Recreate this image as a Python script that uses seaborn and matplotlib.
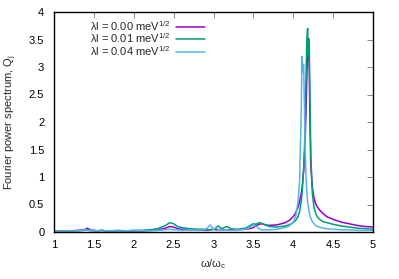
import numpy as np
import pandas as pd
import matplotlib
matplotlib.use("Agg")
import matplotlib.pyplot as plt
import seaborn as sns

# Frecuencias (omega / omega_c)
omega = [1.0, 1.1, 1.2, 1.3, 1.38, 1.42, 1.46, 1.5, 1.55, 1.6, 1.65, 1.7, 1.8, 1.9,
         2.0, 2.1, 2.2, 2.3, 2.4, 2.45, 2.5, 2.55, 2.6, 2.7, 2.8, 2.9, 2.96, 3.0,
         3.03, 3.06, 3.1, 3.17, 3.22, 3.3, 3.4, 3.45, 3.5, 3.53, 3.57, 3.6, 3.65,
         3.7, 3.8, 3.9, 3.95, 4.0, 4.03, 4.06, 4.08, 4.1, 4.11, 4.12, 4.13, 4.14,
         4.15, 4.16, 4.17, 4.18, 4.19, 4.2, 4.21, 4.22, 4.24, 4.26, 4.28, 4.3,
         4.33, 4.37, 4.42, 4.5, 4.6, 4.7, 4.8, 4.9, 5.0]

# Espectro de potencia para lambda l = 0.00
q_000 = [0.02, 0.02, 0.02, 0.03, 0.04, 0.07, 0.03, 0.03, 0.02, 0.03, 0.02, 0.02, 0.02, 0.02,
         0.02, 0.02, 0.03, 0.04, 0.07, 0.10, 0.09, 0.06, 0.05, 0.04, 0.04, 0.03, 0.04, 0.05,
         0.04, 0.04, 0.04, 0.04, 0.04, 0.04, 0.05, 0.06, 0.08, 0.11, 0.14, 0.15, 0.13,
         0.12, 0.13, 0.17, 0.21, 0.28, 0.35, 0.45, 0.55, 0.70, 0.80, 0.95, 1.10, 1.35,
         1.70, 2.20, 2.80, 3.30, 3.52, 3.00, 2.00, 1.20, 0.80, 0.62, 0.52, 0.46,
         0.40, 0.34, 0.28, 0.23, 0.18, 0.15, 0.12, 0.10, 0.09]

# Espectro de potencia para lambda l = 0.01
q_001 = [0.02, 0.02, 0.02, 0.02, 0.03, 0.04, 0.03, 0.02, 0.02, 0.03, 0.02, 0.02, 0.03, 0.02,
         0.03, 0.03, 0.04, 0.06, 0.12, 0.17, 0.15, 0.10, 0.08, 0.06, 0.05, 0.05, 0.04, 0.05,
         0.08, 0.11, 0.06, 0.10, 0.06, 0.05, 0.07, 0.11, 0.15, 0.14, 0.17, 0.16, 0.13,
         0.10, 0.09, 0.11, 0.13, 0.17, 0.21, 0.28, 0.38, 0.55, 0.70, 0.90, 1.15, 1.50,
         2.00, 2.80, 3.50, 3.70, 3.20, 3.50, 2.40, 1.40, 0.70, 0.45, 0.34, 0.28,
         0.23, 0.19, 0.17, 0.14, 0.11, 0.09, 0.07, 0.06, 0.05]

# Espectro de potencia para lambda l = 0.04
q_004 = [0.01, 0.02, 0.02, 0.02, 0.04, 0.03, 0.02, 0.03, 0.02, 0.04, 0.02, 0.02, 0.02, 0.02,
         0.03, 0.02, 0.02, 0.03, 0.04, 0.05, 0.04, 0.04, 0.03, 0.04, 0.03, 0.04, 0.13, 0.04,
         0.08, 0.04, 0.04, 0.04, 0.03, 0.04, 0.05, 0.08, 0.13, 0.11, 0.06, 0.04, 0.04,
         0.04, 0.05, 0.08, 0.11, 0.18, 0.28, 0.55, 0.95, 2.20, 3.19, 2.90, 3.05, 2.30,
         1.50, 1.00, 0.75, 0.55, 0.45, 0.36, 0.30, 0.25, 0.19, 0.15, 0.12, 0.10,
         0.09, 0.07, 0.06, 0.05, 0.04, 0.04, 0.03, 0.03, 0.03]

etiquetas = ["λl = 0.00 meV$^{1/2}$", "λl = 0.01 meV$^{1/2}$", "λl = 0.04 meV$^{1/2}$"]
colores = ["#9400d3", "#009e73", "#56b4e9"]

sns.set_style("white")
plt.rcParams["font.family"] = ["Liberation Sans", "DejaVu Sans"]
plt.rcParams["mathtext.default"] = "regular"

fig = plt.figure(figsize=(3.99, 2.79), dpi=100)
ax = fig.add_axes([54 / 399, 47 / 279, 319 / 399, 220 / 279])

for serie, etiqueta, color in zip([q_000, q_001, q_004], etiquetas, colores):
    df = pd.DataFrame({"omega": omega, "q": serie})
    sns.lineplot(data=df, x="omega", y="q", ax=ax, color=color, lw=1.1,
                 label=etiqueta, sort=False, estimator=None)

ax.set_xlim(1, 5)
ax.set_ylim(0, 4)
ax.set_xticks(np.arange(1, 5.01, 0.5))
ax.set_yticks(np.arange(0, 4.01, 0.5))
ax.set_xticklabels(["1", "1.5", "2", "2.5", "3", "3.5", "4", "4.5", "5"])
ax.set_yticklabels(["0", "0.5", "1", "1.5", "2", "2.5", "3", "3.5", "4"])
ax.tick_params(axis="both", direction="in", top=True, right=True, length=4,
               width=0.6, color="#777777", labelsize=8, labelcolor="black")
ax.tick_params(axis="x", pad=6)
ax.tick_params(axis="y", pad=7)

for spine in ax.spines.values():
    spine.set_color("black")
    spine.set_linewidth(1.0)

ax.set_xlabel("ω/ω$_c$", fontsize=8, labelpad=5)
ax.set_ylabel("Fourier power spectrum, Q$_j$", fontsize=8, labelpad=7)

ax.legend(loc="upper left", bbox_to_anchor=(82 / 399, 1 - 11 / 279),
          bbox_transform=fig.transFigure, frameon=False, markerfirst=False,
          fontsize=8, handlelength=2.6, handletextpad=0.5, labelspacing=-0.1,
          borderpad=0.2)

fig.savefig("out.png", dpi=100)
